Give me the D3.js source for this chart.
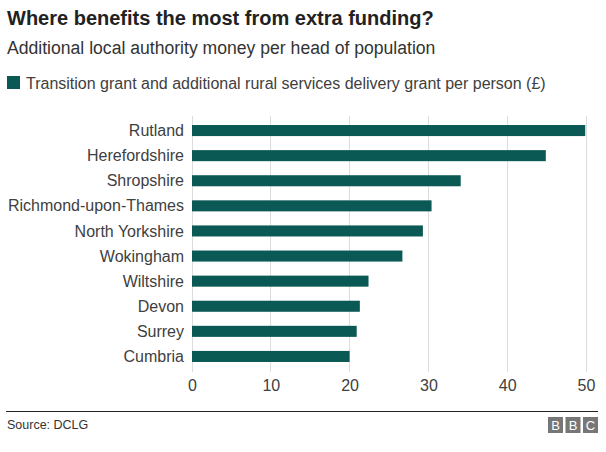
<!DOCTYPE html>
<html><head><meta charset="utf-8">
<script src="https://cdn.jsdelivr.net/npm/d3@7"></script>
<style>body{margin:0;background:#fff}svg{display:block;font-family:"Liberation Sans",Arial,sans-serif}</style>
</head><body><svg id="c" width="606" height="452"></svg>
<script>
const categories = ["Rutland","Herefordshire","Shropshire","Richmond-upon-Thames","North Yorkshire","Wokingham","Wiltshire","Devon","Surrey","Cumbria"];
const values = [49.9,44.9,34.1,30.4,29.3,26.7,22.4,21.3,20.9,20.0];
const ticks = [0,10,20,30,40,50];
const seriesName = "Transition grant and additional rural services delivery grant per person (£)";

const svg = d3.select("#c");
const color = "#0b5955";
const x = d3.scaleLinear().domain([0,50]).range([192,586]);
const y = d3.scaleBand().domain(categories).range([118,369]).paddingInner(0.56).paddingOuter(0.28);

svg.append("text").attr("x",7).attr("y",25).attr("font-size",20).attr("font-weight","bold").attr("fill","#222").text("Where benefits the most from extra funding?");
svg.append("text").attr("x",7).attr("y",54).attr("font-size",17.6).attr("fill","#333").text("Additional local authority money per head of population");
svg.append("rect").attr("x",7).attr("y",76).attr("width",13).attr("height",13).attr("fill",color);
svg.append("text").attr("x",26).attr("y",89).attr("font-size",16).attr("fill","#404040").text(seriesName);

const g = svg.append("g");
g.selectAll("line.grid").data(ticks).join("line").attr("class","grid")
 .attr("x1",d=>x(d)).attr("x2",d=>x(d)).attr("y1",116).attr("y2",372)
 .attr("stroke","#dcdcdc").attr("stroke-width",1).attr("shape-rendering","crispEdges");

g.selectAll("rect.bar").data(values).join("rect").attr("class","bar")
 .attr("x",x(0)).attr("y",(d,i)=>y(categories[i])).attr("width",d=>x(d)-x(0)).attr("height",y.bandwidth())
 .attr("fill",color);

g.selectAll("text.cat").data(categories).join("text").attr("class","cat")
 .attr("x",184).attr("y",d=>y(d)+y.bandwidth()/2).attr("dy","0.35em").attr("text-anchor","end")
 .attr("font-size",16).attr("fill","#404040").text(d=>d);

const axis = d3.axisBottom(x).tickValues(ticks).tickSize(0).tickPadding(0);
const ag = svg.append("g").attr("transform","translate(0,377)").call(axis);
ag.select(".domain").remove();
ag.selectAll("text").attr("font-size",16).attr("fill","#404040").attr("font-family","'Liberation Sans',Arial,sans-serif").attr("dy","0.85em");

svg.append("line").attr("x1",6).attr("x2",598).attr("y1",411.5).attr("y2",411.5).attr("stroke","#222").attr("stroke-width",1);
svg.append("text").attr("x",7).attr("y",429).attr("font-size",12.5).attr("fill","#333").text("Source: DCLG");
const logo = ["B","B","C"];
logo.forEach((l,i)=>{
  svg.append("rect").attr("x",548+i*17.5).attr("y",417).attr("width",15).attr("height",16).attr("fill","#777");
  svg.append("text").attr("x",548+i*17.5+7.5).attr("y",430).attr("text-anchor","middle").attr("font-size",13).attr("fill","#fff").text(l);
});
</script></body></html>
